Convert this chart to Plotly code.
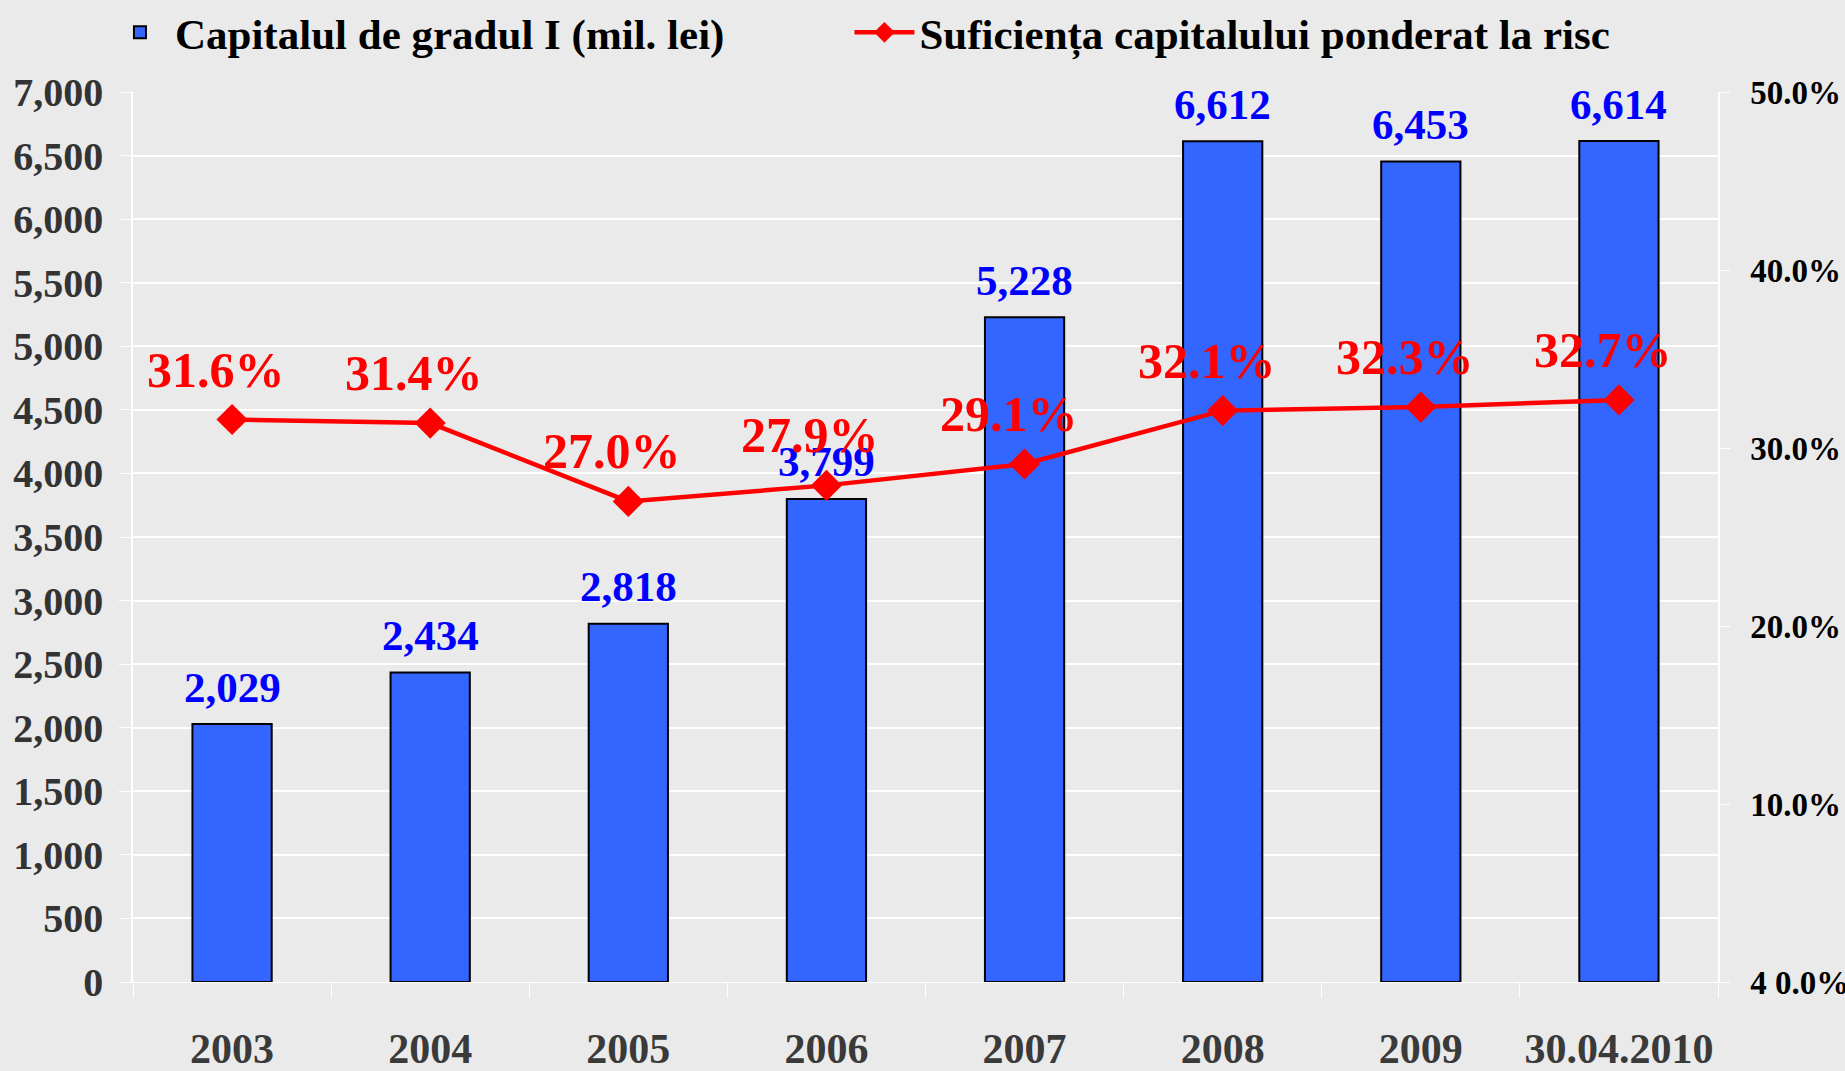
import plotly.graph_objects as go

categories = ["2003", "2004", "2005", "2006", "2007", "2008", "2009", "30.04.2010"]
capital_values = [2029, 2434, 2818, 3799, 5228, 6612, 6453, 6614]
ratio_values = [31.6, 31.4, 27.0, 27.9, 29.1, 32.1, 32.3, 32.7]
left_ticks = list(range(0, 7001, 500))
right_ticks = [0, 10, 20, 30, 40, 50]
right_tick_labels = ["4 0.0%", "10.0%", "20.0%", "30.0%", "40.0%", "50.0%"]

FONT = "Liberation Serif"
BG = "#EAEAEA"

fig = go.Figure()
fig.add_trace(go.Bar(
    x=categories, y=capital_values, name="Capitalul de gradul I (mil. lei)",
    marker=dict(color="#3366FF", line=dict(color="black", width=2)),
    width=0.4, legend="legend",
))
fig.add_trace(go.Scatter(
    x=categories, y=ratio_values, name="Suficiența capitalului ponderat la risc",
    yaxis="y2", mode="lines+markers", legend="legend2",
    line=dict(color="#FF0000", width=4.5),
    marker=dict(symbol="diamond", size=24, color="#FF0000"),
    cliponaxis=False,
))

annotations = []
for i, v in enumerate(capital_values):
    annotations.append(dict(
        x=i, y=v, xref="x", yref="y", text=f"{v:,}", showarrow=False,
        yshift=37, font=dict(family=FONT, size=43, color="#0000FF", weight="bold"),
    ))
for i, v in enumerate(ratio_values):
    annotations.append(dict(
        x=i, y=v, xref="x", yref="y2", text=f"{v:.1f}%", showarrow=False,
        yshift=50, xshift=-16,
        font=dict(family=FONT, size=50, color="#FF0000", weight="bold"),
    ))

legend_common = dict(
    orientation="h", xanchor="left", y=1.067, yanchor="middle",
    font=dict(family=FONT, size=43, color="black", weight="bold"),
    bgcolor="rgba(0,0,0,0)", itemwidth=60,
)

fig.update_layout(
    width=1845, height=1071,
    paper_bgcolor=BG, plot_bgcolor=BG,
    margin=dict(l=133, r=127, t=92, b=89, autoexpand=False),
    font=dict(family=FONT, weight="bold", color="black"),
    showlegend=True,
    annotations=annotations,
    legend=dict(x=-0.0177, **legend_common),
    legend2=dict(x=0.452, **legend_common),
    xaxis=dict(
        type="category",
        range=[-0.5, 7.5], showgrid=False, showline=True, linecolor="white", linewidth=1,
        ticks="outside", tickson="boundaries", ticklen=15, tickcolor="white",
        tickfont=dict(family=FONT, size=42, color="#3A3A3A", weight="bold"),
        ticklabelstandoff=30, tickangle=0,
    ),
    yaxis=dict(
        range=[0, 7000], tickvals=left_ticks, tickformat=",",
        showgrid=True, gridcolor="white", gridwidth=1.5,
        showline=True, linecolor="white", linewidth=1.5,
        ticks="outside", ticklen=12, tickcolor="white",
        tickfont=dict(family=FONT, size=40, color="#333333", weight="bold"),
        zeroline=False, ticklabelstandoff=8,
    ),
    yaxis2=dict(
        range=[0, 50], tickvals=right_ticks, ticktext=right_tick_labels,
        overlaying="y", side="right", showgrid=False,
        showline=True, linecolor="white", linewidth=1.5,
        ticks="outside", ticklen=10, tickcolor="white",
        tickfont=dict(family=FONT, size=33, color="black", weight="bold"),
        zeroline=False, ticklabelstandoff=14,
    ),
)

fig.write_html(
    "out.html",
    config={"displayModeBar": False},
    post_script="document.body.style.margin='0';document.body.style.overflow='hidden';",
)
